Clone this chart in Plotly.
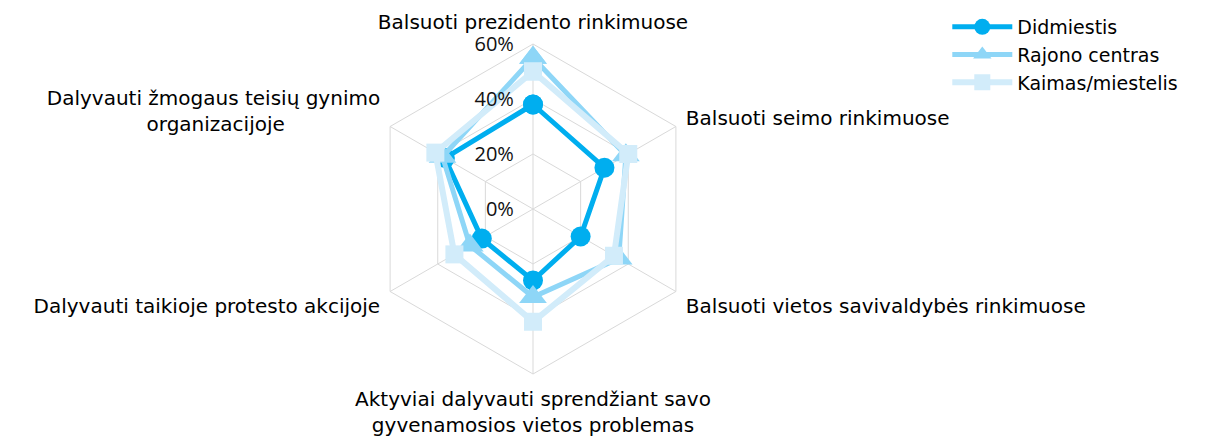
import plotly.graph_objects as go

NB = "\u00a0"

categories = [
    "Balsuoti prezidento rinkimuose",
    "Balsuoti seimo rinkimuose",
    "Balsuoti vietos savivaldybės rinkimuose",
    "Aktyviai dalyvauti sprendžiant savo<br>gyvenamosios vietos problemas",
    "Dalyvauti taikioje protesto akcijoje",
    "Dalyvauti žmogaus teisių gynimo<br>organizacijoje" + NB * 15,
]
didmiestis = [38, 30, 20, 26, 21.5, 37]
rajono_centras = [55, 39, 36, 32, 26.5, 38]
kaimas_miestelis = [50, 40, 34, 41, 33, 41]

radial_ticks = [0, 20, 40, 60]
radial_ticktext = ["0%", "20%", "40%", "60%"]

def closed(v):
    return list(v) + [v[0]]

theta = closed(categories)

padded_ticktext = [t + NB * 3 for t in radial_ticktext]

fig = go.Figure()
fig.add_trace(go.Scatterpolar(
    r=closed(didmiestis), theta=theta, name="Didmiestis", mode="lines+markers",
    line=dict(color="#00AEEF", width=5),
    marker=dict(symbol="circle", size=20, color="#00AEEF"),
))
fig.add_trace(go.Scatterpolar(
    r=closed(rajono_centras), theta=theta, name="Rajono centras", mode="lines+markers",
    line=dict(color="#8ED6F7", width=5),
    marker=dict(symbol="triangle-up", size=24, color="#8ED6F7"),
))
fig.add_trace(go.Scatterpolar(
    r=closed(kaimas_miestelis), theta=theta, name="Kaimas/miestelis", mode="lines+markers",
    line=dict(color="#D2ECFA", width=6),
    marker=dict(symbol="square", size=18, color="#D2ECFA"),
))

W, H = 1212, 445
cx, cy, R = 525, 201, 165
fig.update_layout(
    width=W, height=H,
    margin=dict(l=0, r=0, t=0, b=0),
    paper_bgcolor="white", plot_bgcolor="white",
    font=dict(family="DejaVu Sans", size=18, color="#000000"),
    polar=dict(
        domain=dict(x=[(cx - R) / W, (cx + R) / W], y=[(H - cy - R) / H, (H - cy + R) / H]),
        bgcolor="white",
        gridshape="linear",
        angularaxis=dict(
            direction="clockwise", rotation=90,
            showgrid=True, gridcolor="#D9D9D9", gridwidth=1,
            showline=True, linecolor="#D9D9D9", linewidth=1,
            ticks="outside", ticklen=7, tickcolor="rgba(0,0,0,0)",
            tickfont=dict(family="DejaVu Sans", size=20, color="#000000"),
        ),
        radialaxis=dict(
            range=[0, 60], tickvals=radial_ticks, ticktext=padded_ticktext,
            angle=90, tickangle=90, side="counterclockwise",
            showline=False, ticks="", showgrid=True, gridcolor="#D9D9D9", gridwidth=1,
            tickfont=dict(family="Open Sans", size=20, color="#111111"),
        ),
    ),
    legend=dict(
        x=0.775, y=1.0, xanchor="left", yanchor="top",
        font=dict(family="DejaVu Sans", size=19, color="#000000"),
        tracegroupgap=0, itemwidth=60, bgcolor="rgba(0,0,0,0)",
    ),
)

fig.write_html("out.html")
